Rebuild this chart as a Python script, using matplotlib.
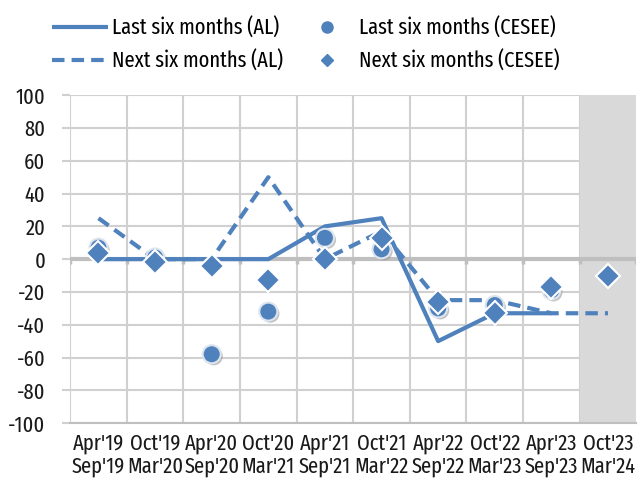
import matplotlib
matplotlib.use("Agg")
import matplotlib.pyplot as plt
import matplotlib.patheffects as pe
import numpy as np

categories = ["Apr'19\nSep'19", "Oct'19\nMar'20", "Apr'20\nSep'20", "Oct'20\nMar'21",
              "Apr'21\nSep'21", "Oct'21\nMar'22", "Apr'22\nSep'22", "Oct'22\nMar'23",
              "Apr'23\nSep'23", "Oct'23\nMar'24"]
last_al = [0, 0, 0, 0, 20, 25, -50, -33, -33, np.nan]
next_al = [25, 0, 0, 50, 0, 17, -25, -25, -33, -33]
last_cesee = [7, 1, -58, -32, 13, 6, -30, -28, -19, np.nan]
next_cesee = [4, -2, -4, -13, 0, 13, -26, -33, -17, -10]
yticks = list(range(-100, 101, 20))

plt.rcParams['font.family'] = ['Fira Sans Extra Condensed', 'DejaVu Sans']
blue = '#4F81BD'
grid = '#D0D0D0'
fs = 16

fig = plt.figure(figsize=(6.44, 4.96), dpi=100)
ax = fig.add_axes([0.109, 0.147, 0.879, 0.661])
x = np.arange(len(categories))

ax.set_xlim(-0.5, len(categories) - 0.5)
ax.set_ylim(-100, 100)

# grid
for yv in yticks:
    if yv != 0:
        ax.axhline(yv, color=grid, lw=1.5, zorder=1)
for b in np.arange(-0.5, len(categories), 1.0):
    ax.axvline(b, color=grid, lw=1.5, zorder=1)

# shaded forecast region
ax.axvspan(len(categories) - 1.5, len(categories) - 0.5, color='#D9D9D9', zorder=1.5, lw=0)

# zero line with ticks
ax.axhline(0, color='#BFBFBF', lw=3, zorder=2)
ax.vlines(np.arange(-0.5, len(categories), 1.0), -3, 0, color='#BFBFBF', lw=2.5, zorder=2)

l1, = ax.plot(x, last_al, color=blue, lw=3, zorder=3, solid_capstyle='butt')
l2, = ax.plot(x, next_al, color=blue, lw=3, ls=(0, (3, 1.7)), zorder=3)
shadow = [pe.SimplePatchShadow(offset=(1.5, -1.5), shadow_rgbFace='#888888', alpha=0.5), pe.Normal()]
m1, = ax.plot(x, last_cesee, 'o', color=blue, ms=13, mec='#DCE4EE', mew=1.5, zorder=4,
              path_effects=shadow)
m2, = ax.plot(x, next_cesee, 'D', color=blue, ms=12, mec='white', mew=1.5, zorder=5)

ax.set_xticks(x)
ax.set_xticklabels(categories, fontsize=fs, color='#1a1a1a', linespacing=1.1)
ax.set_yticks(yticks)
ax.set_yticklabels([str(v) for v in yticks], fontsize=fs, color='#1a1a1a')
ax.tick_params(axis='x', length=0, pad=7)
ax.tick_params(axis='y', length=5.8, width=1.5, color=grid, pad=12)
for s in ['top', 'right', 'left']:
    ax.spines[s].set_visible(False)
ax.spines['bottom'].set_color('#BFBFBF')
ax.spines['bottom'].set_linewidth(1.5)

lm1, = plt.plot([], [], 'o', color=blue, ms=8)
lm2, = plt.plot([], [], 'D', color=blue, ms=6.5)
fig.legend([l1, l2, lm1, lm2],
           ['Last six months (AL)', 'Next six months (AL)',
            'Last six months (CESEE)', 'Next six months (CESEE)'],
           ncol=2, loc='upper left', bbox_to_anchor=(0.05, 1.006), frameon=False,
           fontsize=fs, handlelength=2.5, handletextpad=0.2, columnspacing=0.7,
           labelspacing=0.5)

fig.savefig('out.png', dpi=100)
